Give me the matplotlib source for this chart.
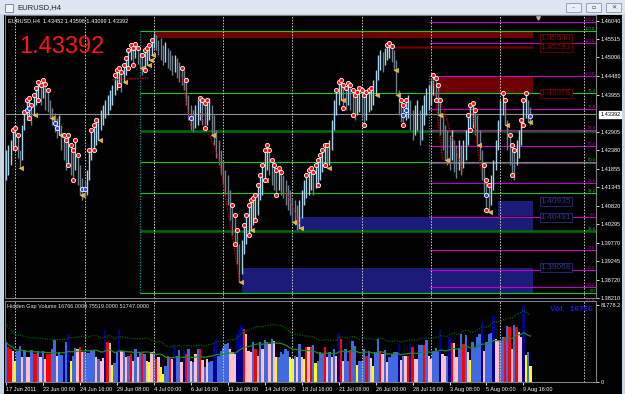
import matplotlib.pyplot as plt
import numpy as np
import pandas as pd
from matplotlib.patches import Rectangle
import matplotlib.transforms as mtransforms

plt.rcParams['font.family'] = ['Liberation Sans', 'DejaVu Sans']

# ---- price bars (EURUSD H4) ----
highs = [1.4239, 1.4253, 1.4267, 1.4295, 1.4301, 1.4281, 1.4239, 1.4310, 1.4346, 1.4380,
         1.4386, 1.4366, 1.4394, 1.4414, 1.4431, 1.4422, 1.4437, 1.4425, 1.4408, 1.4380,
         1.4358, 1.4343, 1.4329, 1.4338, 1.4310, 1.4281, 1.4267, 1.4281, 1.4253, 1.4239,
         1.4267, 1.4225, 1.4197, 1.4160, 1.4154, 1.4182, 1.4239, 1.4295, 1.4310, 1.4324,
         1.4329, 1.4352, 1.4366, 1.4380, 1.4394, 1.4408, 1.4422, 1.4451, 1.4465, 1.4471,
         1.4459, 1.4479, 1.4499, 1.4521, 1.4535, 1.4527, 1.4538, 1.4527, 1.4516, 1.4507,
         1.4521, 1.4527, 1.4535, 1.4550, 1.4569, 1.4564, 1.4550, 1.4555, 1.4535, 1.4544,
         1.4527, 1.4521, 1.4507, 1.4507, 1.4499, 1.4487, 1.4471, 1.4465, 1.4437, 1.4394,
         1.4366, 1.4352, 1.4366, 1.4380, 1.4386, 1.4380, 1.4372, 1.4380, 1.4386, 1.4366,
         1.4338, 1.4295, 1.4267, 1.4239, 1.4211, 1.4182, 1.4168, 1.4126, 1.4084, 1.4056,
         1.4013, 1.3972, 1.3986, 1.4028, 1.4056, 1.4084, 1.4098, 1.4103, 1.4112, 1.4140,
         1.4168, 1.4197, 1.4239, 1.4253, 1.4239, 1.4211, 1.4197, 1.4182, 1.4188, 1.4177,
         1.4168, 1.4154, 1.4140, 1.4126, 1.4103, 1.4098, 1.4084, 1.4098, 1.4126, 1.4154,
         1.4168, 1.4182, 1.4188, 1.4177, 1.4197, 1.4211, 1.4225, 1.4239, 1.4253, 1.4253,
         1.4267, 1.4324, 1.4380, 1.4408, 1.4431, 1.4437, 1.4422, 1.4414, 1.4428, 1.4422,
         1.4408, 1.4394, 1.4403, 1.4414, 1.4408, 1.4394, 1.4403, 1.4408, 1.4414, 1.4437,
         1.4465, 1.4507, 1.4521, 1.4516, 1.4527, 1.4535, 1.4541, 1.4533, 1.4521, 1.4493,
         1.4408, 1.4380, 1.4366, 1.4380, 1.4394, 1.4380, 1.4352, 1.4366, 1.4380, 1.4352,
         1.4366, 1.4394, 1.4414, 1.4422, 1.4437, 1.4451, 1.4442, 1.4422, 1.4380, 1.4338,
         1.4310, 1.4295, 1.4281, 1.4295, 1.4267, 1.4253, 1.4267, 1.4253, 1.4267, 1.4295,
         1.4338, 1.4366, 1.4372, 1.4352, 1.4338, 1.4295, 1.4239, 1.4197, 1.4154, 1.4140,
         1.4168, 1.4211, 1.4267, 1.4324, 1.4380, 1.4400, 1.4380, 1.4324, 1.4281, 1.4253,
         1.4239, 1.4267, 1.4295, 1.4324, 1.4380, 1.4400, 1.4380, 1.4360]
lows = [1.4154, 1.4168, 1.4197, 1.4239, 1.4245, 1.4216, 1.4188, 1.4211, 1.4295, 1.4324,
        1.4329, 1.4310, 1.4338, 1.4366, 1.4380, 1.4366, 1.4386, 1.4352, 1.4346, 1.4329,
        1.4310, 1.4290, 1.4273, 1.4281, 1.4239, 1.4211, 1.4182, 1.4197, 1.4168, 1.4154,
        1.4182, 1.4140, 1.4112, 1.4098, 1.4103, 1.4112, 1.4154, 1.4211, 1.4239, 1.4253,
        1.4267, 1.4295, 1.4310, 1.4329, 1.4338, 1.4352, 1.4366, 1.4394, 1.4408, 1.4422,
        1.4403, 1.4431, 1.4451, 1.4471, 1.4493, 1.4479, 1.4499, 1.4482, 1.4471, 1.4451,
        1.4465, 1.4479, 1.4493, 1.4507, 1.4527, 1.4521, 1.4507, 1.4493, 1.4479, 1.4487,
        1.4471, 1.4465, 1.4451, 1.4459, 1.4442, 1.4431, 1.4422, 1.4408, 1.4366, 1.4324,
        1.4295, 1.4290, 1.4301, 1.4310, 1.4324, 1.4310, 1.4301, 1.4310, 1.4324, 1.4281,
        1.4253, 1.4216, 1.4197, 1.4168, 1.4140, 1.4112, 1.4084, 1.4041, 1.3999, 1.3972,
        1.3916, 1.3865, 1.3888, 1.3944, 1.3972, 1.3999, 1.4013, 1.4028, 1.4041, 1.4056,
        1.4098, 1.4112, 1.4154, 1.4182, 1.4168, 1.4140, 1.4126, 1.4112, 1.4126, 1.4112,
        1.4103, 1.4084, 1.4070, 1.4056, 1.4036, 1.4028, 1.4013, 1.4019, 1.4047, 1.4084,
        1.4103, 1.4112, 1.4126, 1.4112, 1.4132, 1.4140, 1.4154, 1.4177, 1.4197, 1.4188,
        1.4197, 1.4239, 1.4295, 1.4338, 1.4366, 1.4380, 1.4358, 1.4352, 1.4366, 1.4352,
        1.4338, 1.4324, 1.4338, 1.4346, 1.4329, 1.4310, 1.4324, 1.4346, 1.4352, 1.4366,
        1.4394, 1.4437, 1.4465, 1.4459, 1.4479, 1.4493, 1.4499, 1.4487, 1.4465, 1.4394,
        1.4338, 1.4318, 1.4310, 1.4324, 1.4329, 1.4295, 1.4267, 1.4281, 1.4295, 1.4253,
        1.4267, 1.4310, 1.4338, 1.4352, 1.4366, 1.4394, 1.4380, 1.4338, 1.4281, 1.4239,
        1.4211, 1.4197, 1.4182, 1.4211, 1.4177, 1.4160, 1.4182, 1.4168, 1.4188, 1.4211,
        1.4253, 1.4295, 1.4301, 1.4281, 1.4253, 1.4211, 1.4154, 1.4112, 1.4070, 1.4064,
        1.4084, 1.4126, 1.4182, 1.4239, 1.4295, 1.4338, 1.4310, 1.4239, 1.4197, 1.4168,
        1.4154, 1.4197, 1.4216, 1.4253, 1.4310, 1.4329, 1.4318, 1.4310]
last_ohlc = [1.43452, 1.43598, 1.43099, 1.43392]

# ---- Hidden Gap Volume ----
volumes = [42400, 37100, 35000, 33400, 22600, 33400, 37800, 26200, 33400, 26200,
           26200, 34200, 29800, 29800, 33400, 26200, 32700, 24400, 29800, 29800,
           35300, 44100, 28000, 31600, 29000, 33400, 42400, 51300, 22600, 28000,
           36400, 35300, 37100, 31600, 32000, 30500, 30500, 33400, 33400, 26900,
           24400, 22600, 25000, 54900, 42400, 41300, 17800, 19700, 31600, 54900,
           33400, 31600, 26200, 28000, 29800, 22600, 35300, 26200, 31600, 31600,
           30000, 22600, 20800, 31600, 33400, 24400, 27000, 15400, 8300, 17200,
           28000, 26200, 24400, 38800, 28000, 34200, 20800, 33400, 29800, 35300,
           22600, 20800, 29800, 35300, 35300, 23300, 16100, 24400, 20800, 22000,
           40600, 45900, 28000, 33400, 36000, 39900, 41300, 35300, 31600, 30000,
           51300, 54900, 60300, 56000, 51300, 33400, 32000, 42400, 35300, 28000,
           42400, 35300, 44100, 42000, 40600, 45900, 43100, 26900, 26900, 31600,
           29800, 35300, 33000, 26200, 24400, 28000, 26900, 39900, 26200, 24400,
           37100, 37100, 37100, 38800, 19700, 22600, 31600, 30000, 37100, 26200,
           31600, 26200, 35300, 28000, 52000, 45900, 22600, 35300, 22600, 34200,
           43100, 38000, 18300, 21900, 22600, 35300, 28000, 33400, 25000, 17200,
           31600, 45900, 33400, 29800, 34200, 20800, 26200, 30000, 31600, 31600,
           40600, 23300, 28000, 28000, 28000, 40600, 37100, 24400, 24400, 38800,
           38800, 38800, 44100, 28000, 24400, 33400, 36000, 31600, 55600, 29800,
           28000, 28000, 47700, 41300, 41300, 26900, 36400, 51300, 40600, 49500,
           31600, 23300, 42000, 36400, 47700, 51300, 63800, 33400, 42400, 51300,
           52000, 69900, 45900, 43100, 43100, 47700, 47700, 59200, 58500, 35300,
           60300, 58500, 53100, 47700, 81100, 29100, 32300, 16766]
vol_kinds = ("brrpybbpbp" "pbrrbpbprr" "bbpbbnbnyb" "bprpbbbbbp" "bppnrpybbn"
             "pbpbrpbpbr" "bpypbrpyyb" "brpnbbpnrb" "pbpbrpbpbb" "nnbbbbbppp"
             "nnnrpppbrp" "bpbbpbpybb" "bbbyybpbpy" "rprbybbbrp" "bpbpnrpbbr"
             "bbybbbrbpy" "bbrpbpbbbb" "npbprnrppb" "brbppbbbnp" "pbnrppbbrb"
             "pybbbbnpbb" "bnppbbrbrp" "brppnyby")
hgv_values = [16766.0, 75519.0, 51747.0]
vol_scale_max = 81778.2

# ---- axis labels ----
time_tick_bars = list(range(0, 225, 16))
time_labels = ['17 Jun 2011', '22 Jun 00:00', '24 Jun 16:00', '29 Jun 08:00', '4 Jul 00:00',
               '6 Jul 16:00', '11 Jul 08:00', '14 Jul 00:00', '18 Jul 16:00', '21 Jul 08:00',
               '26 Jul 00:00', '28 Jul 16:00', '3 Aug 08:00', '5 Aug 00:00', '9 Aug 16:00']
week_separators = [4, 34, 64, 94, 124, 154, 184, 214]
shift_line_bar = 250
price_ticks = [1.46040, 1.45515, 1.45006, 1.44480, 1.43955, 1.42905, 1.42380, 1.41855,
               1.41345, 1.40820, 1.40295, 1.39770, 1.39245, 1.38720, 1.38210]

# ---- chart objects ----
green_fib = (58, 1.3834, 1.4575)       # start bar, 0 level, 100 level
green_levels = [0.0, 23.6, 38.2, 50.0, 61.8, 76.4, 100.0]
green_thick = [23.6, 61.8]
green_hidden_labels = [61.8]           # covered by the magenta 61.8 label
magenta_fib = (183, 1.4051, 1.4448)
magenta_levels = [-61.8, -50.0, -38.2, -23.6, 0.0, 23.6, 38.2, 50.0, 61.8, 76.4, 100.0, 123.6, 138.2]
magenta_hidden_labels = [38.2]         # covered by the green 50.0 label

red_zone_start = [64, 187]
red_zone_low = [1.45546, 1.43976]
red_zone_high = [1.4575, 1.44487]
red_line_start = 167
red_line_price = 1.45291
blue_zone_start = [213, 126, 102]
blue_zone_low = [1.4052, 1.4011, 1.3836]
blue_zone_high = [1.40935, 1.40491, 1.39068]
zone_end = 228
label_bar = 231.5

# indicator markers (bar indices)
red_high_bars = [3, 4, 5, 8, 9, 10, 11, 12, 13, 14, 15, 16, 17, 18, 25, 26, 27, 28, 29, 30, 31,
                 36, 37, 38, 39, 47, 48, 49, 50, 51, 52, 53, 54, 55, 56, 57, 59, 60, 61, 62, 63,
                 76, 78, 84, 85, 86, 87, 98, 99, 100, 103, 104, 105, 106, 107, 108, 109, 110,
                 111, 112, 113, 114, 115, 116, 117, 118, 119, 130, 131, 132, 133, 134, 135, 136,
                 137, 138, 139, 143, 144, 145, 146, 147, 148, 149, 150, 151, 152, 153, 154, 155,
                 156, 157, 158, 165, 166, 167, 171, 172, 173, 185, 186, 187, 188, 200, 201, 202,
                 203, 207, 208, 209, 215, 216, 218, 219, 220, 223, 224, 225]
red_low_bars = [4, 10, 14, 27, 29, 38, 49, 53, 55, 60, 86, 99, 105, 108, 112, 117, 135, 138,
                146, 150, 155, 172, 186, 201, 208, 219, 224]
blue_bars = [9, 10, 21, 22, 33, 34, 80, 172, 173, 208, 227]
tri_bars = [6, 12, 19, 23, 32, 40, 51, 58, 61, 62, 63, 89, 101, 106, 112, 124, 127, 139, 145,
            160, 168, 169, 187, 190, 204, 209, 216, 226]
signal_lines = [([46, 62], [1.4437, 1.4442]),
                ([76, 80], [1.4451, 1.4304]),
                ([84, 92, 101], [1.4343, 1.4220, 1.3875]),
                ([121, 127], [1.4126, 1.4030]),
                ([185, 189], [1.4437, 1.4211]),
                ([187, 198], [1.4403, 1.4174]),
                ([202, 206], [1.4344, 1.4163])]

# ------------------------------------------------------------------
W, H = 625.0, 394.0
fig = plt.figure(figsize=(6.25, 3.94), dpi=100, facecolor='#c8d5e5')


def box(x0, y0, x1, y1):
    return [x0 / W, 1 - y1 / H, (x1 - x0) / W, (y1 - y0) / H]


# window chrome (kept behind the axes)
fig.add_artist(Rectangle((0, 1 - 14 / H), 1, 14 / H, transform=fig.transFigure,
                         facecolor='#dde6f1', edgecolor='none', zorder=-10))
fig.add_artist(Rectangle((4 / W, 0), 618 / W, 1 - 15 / H, transform=fig.transFigure,
                         facecolor='black', edgecolor='none', zorder=-10))
fig.add_artist(Rectangle((5 / W, 1 - 12 / H), 8 / W, 8 / H, transform=fig.transFigure,
                         facecolor='#f4f7fb', edgecolor='#5b7ea8', lw=0.6, zorder=-5))
fig.text(17 / W, 1 - 7.5 / H, 'EURUSD,H4', fontsize=5.5, color='#222222', va='center')
for bx, sym in zip([566, 586, 606], ['–', '▫', '✕']):
    fig.add_artist(Rectangle((bx / W, 1 - 12 / H), 15 / W, 9 / H, transform=fig.transFigure,
                             facecolor='#e9eff7', edgecolor='#8597b0', lw=0.6, zorder=-5))
    fig.text((bx + 7.5) / W, 1 - 7.5 / H, sym, fontsize=4.5, color='#404850',
             ha='center', va='center', family=['DejaVu Sans'])

n = len(highs)
x = np.arange(n)
highs_a = np.array(highs)
lows_a = np.array(lows)
mids = (highs_a + lows_a) / 2
up = np.r_[True, np.diff(mids) >= 0]

x_left, x_right = -0.43, 255.4
p_bottom, p_top = 1.38209, 1.46201

# ---- main price panel ----
ax = fig.add_axes(box(5, 15, 596, 298), facecolor='black')
ax.set_xlim(x_left, x_right)
ax.set_ylim(p_bottom, p_top)

for s, lo, hi in zip(red_zone_start, red_zone_low, red_zone_high):
    ax.add_patch(Rectangle((s, lo), zone_end - s, hi - lo, facecolor='#6e0000',
                           edgecolor='none', zorder=1))
ax.hlines(red_line_price, red_line_start, zone_end, colors='#6e0000', lw=1.8, zorder=1)
for s, lo, hi in zip(blue_zone_start, blue_zone_low, blue_zone_high):
    ax.add_patch(Rectangle((s, lo), zone_end - s, hi - lo, facecolor='#1b1b78',
                           edgecolor='none', zorder=1))

# fibonacci sets
g0, g_lo, g_hi = green_fib
for lvl in green_levels:
    p = g_lo + (g_hi - g_lo) * lvl / 100
    thick = lvl in green_thick
    ax.hlines(p, g0, x_right, colors='#006e00' if thick else '#19c919',
              lw=1.8 if thick else 0.8, zorder=2)
    if lvl not in green_hidden_labels:
        ax.text(x_right - 0.3, p, f'{lvl:.1f}', color='#19c919', fontsize=3,
                ha='right', va='bottom', zorder=5)
ax.vlines(g0, g_lo, g_hi, colors='#00a0a0', linestyles=(0, (1, 1.2)), lw=0.9, zorder=2)

m0, m_lo, m_hi = magenta_fib
for lvl in magenta_levels:
    p = m_lo + (m_hi - m_lo) * lvl / 100
    ax.hlines(p, m0, x_right, colors='#c400c4', lw=0.8, zorder=2)
    if lvl not in magenta_hidden_labels:
        ax.text(x_right - 0.3, p, f'{lvl:.1f}', color='#c400c4', fontsize=3,
                ha='right', va='bottom', zorder=5)
ax.vlines(m0, m_lo, m_hi, colors='#00a0a0', linestyles=(0, (1, 1.2)), lw=0.9, zorder=2)

# current price line
ax.axhline(last_ohlc[3], color='#909090', lw=0.8, zorder=2)

# separators
for b in week_separators + [shift_line_bar]:
    ax.axvline(b, color='#d0d0d0', lw=0.7, ls=(0, (1.5, 1.5)), zorder=2.5)

# bars
ax.vlines(x[up], lows_a[up], highs_a[up], colors='#a6d2ec', lw=1.0, zorder=3)
ax.vlines(x[~up], lows_a[~up], highs_a[~up], colors='#6f7f8c', lw=1.0, zorder=3)

# signal lines and markers
for bx_, py_ in signal_lines:
    ax.plot(bx_, py_, color='#e00000', lw=0.9, ls=(0, (1, 1)), zorder=3.5)
ax.plot(np.array(tri_bars) + 0.7, lows_a[tri_bars], ls='none', marker='<', ms=3,
        mfc='#ffa500', mec='#ffe080', mew=0.4, zorder=4)
ax.plot(red_high_bars, highs_a[red_high_bars], ls='none', marker='o', ms=3.0,
        mfc='#ff1010', mec='white', mew=0.6, zorder=4.5)
ax.plot(red_low_bars, lows_a[red_low_bars], ls='none', marker='o', ms=3.0,
        mfc='#ff1010', mec='white', mew=0.6, zorder=4.5)
ax.plot(blue_bars, mids[blue_bars], ls='none', marker='o', ms=3.0,
        mfc='#2040ff', mec='white', mew=0.6, zorder=4.5)

# zone labels
for p in [red_zone_low[0], red_line_price, red_zone_low[1]]:
    ax.text(label_bar, p, f'{p:.5f}', color='#8a0000', fontsize=6, ha='left', va='center',
            zorder=6, bbox=dict(boxstyle='square,pad=0.12', fc='black', ec='#6e0000', lw=0.6))
for p in blue_zone_high:
    ax.text(label_bar, p, f'{p:.5f}', color='#34348e', fontsize=6, ha='left', va='center',
            zorder=6, bbox=dict(boxstyle='square,pad=0.12', fc='black', ec='#2b2b80', lw=0.6))

# headers
ax.text(0.005, 0.979, 'EURUSD,H4  ' + ' '.join(f'{v:.5f}' for v in last_ohlc),
        transform=ax.transAxes, color='white', fontsize=4, va='center', ha='left')
ax.text(0.0237, 0.8657, f'{last_ohlc[3]:.5f}', transform=ax.transAxes, color='#ff1414',
        fontsize=17, va='baseline', ha='left')
ax.plot([230.5], [p_top - 0.0008], marker='v', ms=2.5, color='#b0b0b0', clip_on=False)

# price scale
ax.yaxis.tick_right()
ax.set_yticks(price_ticks)
ax.set_yticklabels([f'{p:.5f}' for p in price_ticks])
ax.tick_params(axis='y', colors='white', labelsize=4, length=2, width=0.6, pad=1.5)
ax.tick_params(axis='x', bottom=False, labelbottom=False)
ax.annotate(f'{last_ohlc[3]:.5f}', xy=(1.0, last_ohlc[3]),
            xycoords=mtransforms.blended_transform_factory(ax.transAxes, ax.transData),
            xytext=(3, 0), textcoords='offset points', ha='left', va='center',
            fontsize=4, color='black',
            bbox=dict(boxstyle='square,pad=0.15', fc='white', ec='white'))
for sp in ax.spines.values():
    sp.set_color('#808080')
    sp.set_linewidth(0.8)

# ---- volume panel ----
ax2 = fig.add_axes(box(5, 301, 596, 382), facecolor='black')
ax2.set_xlim(x_left, x_right)
ax2.set_ylim(0, vol_scale_max * 81 / 77)
kind_colors = {'b': '#4169e1', 'n': '#00008b', 'r': '#ff0000', 'p': '#ffc0cb', 'y': '#ffff00'}
ax2.bar(x, volumes, width=1.0, color=[kind_colors[k] for k in vol_kinds],
        linewidth=0, antialiased=False, zorder=2)
ma = pd.Series(volumes, dtype=float).rolling(20, min_periods=1).mean()
ax2.plot(x, ma, color='#1f8a1f', lw=0.9, zorder=3)
ax2.plot(x, ma * hgv_values[1] / hgv_values[2], color='#006400', lw=0.9,
         ls=(0, (1, 1)), zorder=3)
for b in week_separators + [shift_line_bar]:
    ax2.axvline(b, color='#d0d0d0', lw=0.7, ls=(0, (1.5, 1.5)), zorder=2.5)

ax2.text(0.004, 0.93, 'Hidden Gap Volume ' + ' '.join(f'{v:.4f}' for v in hgv_values),
         transform=ax2.transAxes, color='#e0e0e0', fontsize=4, va='center', ha='left')
ax2.text(0.995, 0.9, f'Vol.  {int(hgv_values[0])}', transform=ax2.transAxes,
         color='#1a1ad8', fontsize=6, fontweight='bold', va='center', ha='right')

ax2.yaxis.tick_right()
ax2.set_yticks([0, vol_scale_max])
ax2.set_yticklabels(['0', f'{vol_scale_max:.1f}'])
ax2.tick_params(axis='y', colors='white', labelsize=4, length=2, width=0.6, pad=1.5)
ax2.set_xticks(time_tick_bars)
ax2.set_xticklabels(time_labels, ha='left')
ax2.tick_params(axis='x', colors='white', labelsize=4, length=2, width=0.6, pad=1.5)
for sp in ax2.spines.values():
    sp.set_color('#808080')
    sp.set_linewidth(0.8)

fig.savefig('out.png', dpi=100, facecolor=fig.get_facecolor())
